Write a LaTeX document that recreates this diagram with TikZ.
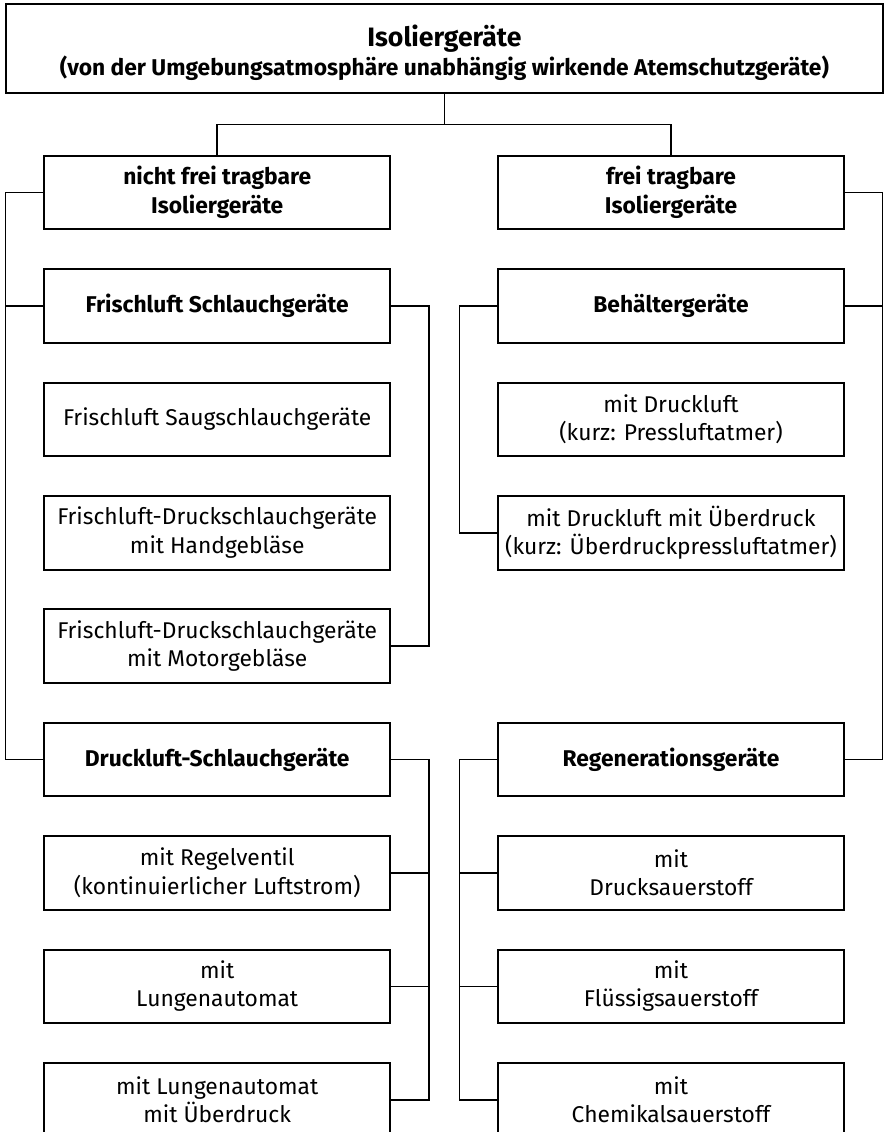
\documentclass[tikz,border=0pt]{standalone}
\usepackage{fontspec}
\setmainfont{Fira Sans}
\usetikzlibrary{positioning}

\begin{document}
\begin{tikzpicture}[
    node distance=19.9pt,
    every node/.style={font=\fontsize{11.4}{14.2}\selectfont},
    box/.style={rectangle, draw, line width=1pt, outer sep=0pt, minimum width=173.2pt, minimum height=36.8pt, inner sep=2pt, align=center},
    head/.style={box, font=\fontsize{11.4}{14.7}\selectfont\bfseries},
    link/.style={line width=0.8pt}
]
\useasboundingbox (0,0) rectangle (442.5pt,-566pt);

% --- Oberbegriff ---
\node (iso) [head, minimum width=438.3pt, minimum height=44.65pt, font=\fontsize{11.4}{14.2}\selectfont\bfseries] at (222.2pt,-24.3pt) {
    \rule{0pt}{15pt}{\fontsize{13.3}{16}\selectfont Isoliergeräte}\\
    (von der Umgebungsatmosphäre unabhängig wirkende Atemschutzgeräte)
};

% --- nicht frei tragbar (links) ---
\node (nft) [head] at (108.6pt,-96.25pt) {nicht frei tragbare\\Isoliergeräte};
\node (frisch) [head, below=of nft] {Frischluft Schlauchgeräte};
\node (saug) [box, below=of frisch] {Frischluft Saugschlauchgeräte};
\node (hand) [box, below=of saug] {Frischluft-Druckschlauchgeräte\\mit Handgebläse};
\node (motor) [box, below=of hand] {Frischluft-Druckschlauchgeräte\\mit Motorgebläse};
\node (druck) [head, below=of motor] {Druckluft-Schlauchgeräte};
\node (regel) [box, below=of druck] {mit Regelventil\\(kontinuierlicher Luftstrom)};
\node (lunge) [box, below=of regel] {mit\\Lungenautomat};
\node (lunue) [box, below=of lunge] {mit Lungenautomat\\mit Überdruck};

% --- frei tragbar (rechts) ---
\node (ft) [head] at (335.5pt,-96.25pt) {frei tragbare\\Isoliergeräte};
\node (behael) [head, below=of ft] {Behältergeräte};
\node (pla) [box, below=of behael] {mit Druckluft\\(kurz: Pressluftatmer)};
\node (uepla) [box, below=of pla] {mit Druckluft mit Überdruck\\(kurz: Überdruckpressluftatmer)};
\node (regen) [head, below=76.6pt of uepla] {Regenerationsgeräte};
\node (dsauer) [box, below=of regen] {mit\\Drucksauerstoff};
\node (fsauer) [box, below=of dsauer] {mit\\Flüssigsauerstoff};
\node (csauer) [box, below=of fsauer] {mit\\Chemikalsauerstoff};

% --- Verbindungen ---
\draw [link] (iso.south) -- ++(0,-15.6pt) coordinate (fork);
\draw [link] (fork) -| (nft.north);
\draw [link] (fork) -| (ft.north);

\draw [link] (nft.west) -- ++(-19.2pt,0) |- (druck.west);
\draw [link] (frisch.west) -- ++(-19.2pt,0);
\draw [link] (ft.east) -- ++(19.2pt,0) |- (regen.east);
\draw [link] (behael.east) -- ++(19.2pt,0);

\draw [link] (frisch.east) -- ++(19.2pt,0) |- (motor.east);
\draw [link] (behael.west) -- ++(-19.2pt,0) |- (uepla.west);

\draw [link] (druck.east) -- ++(19.2pt,0) |- (lunue.east);
\draw [link] (regel.east) -- ++(19.2pt,0);
\draw [link] (lunge.east) -- ++(19.2pt,0);
\draw [link] (regen.west) -- ++(-19.2pt,0) |- (csauer.west);
\draw [link] (dsauer.west) -- ++(-19.2pt,0);
\draw [link] (fsauer.west) -- ++(-19.2pt,0);

\end{tikzpicture}
\end{document}
